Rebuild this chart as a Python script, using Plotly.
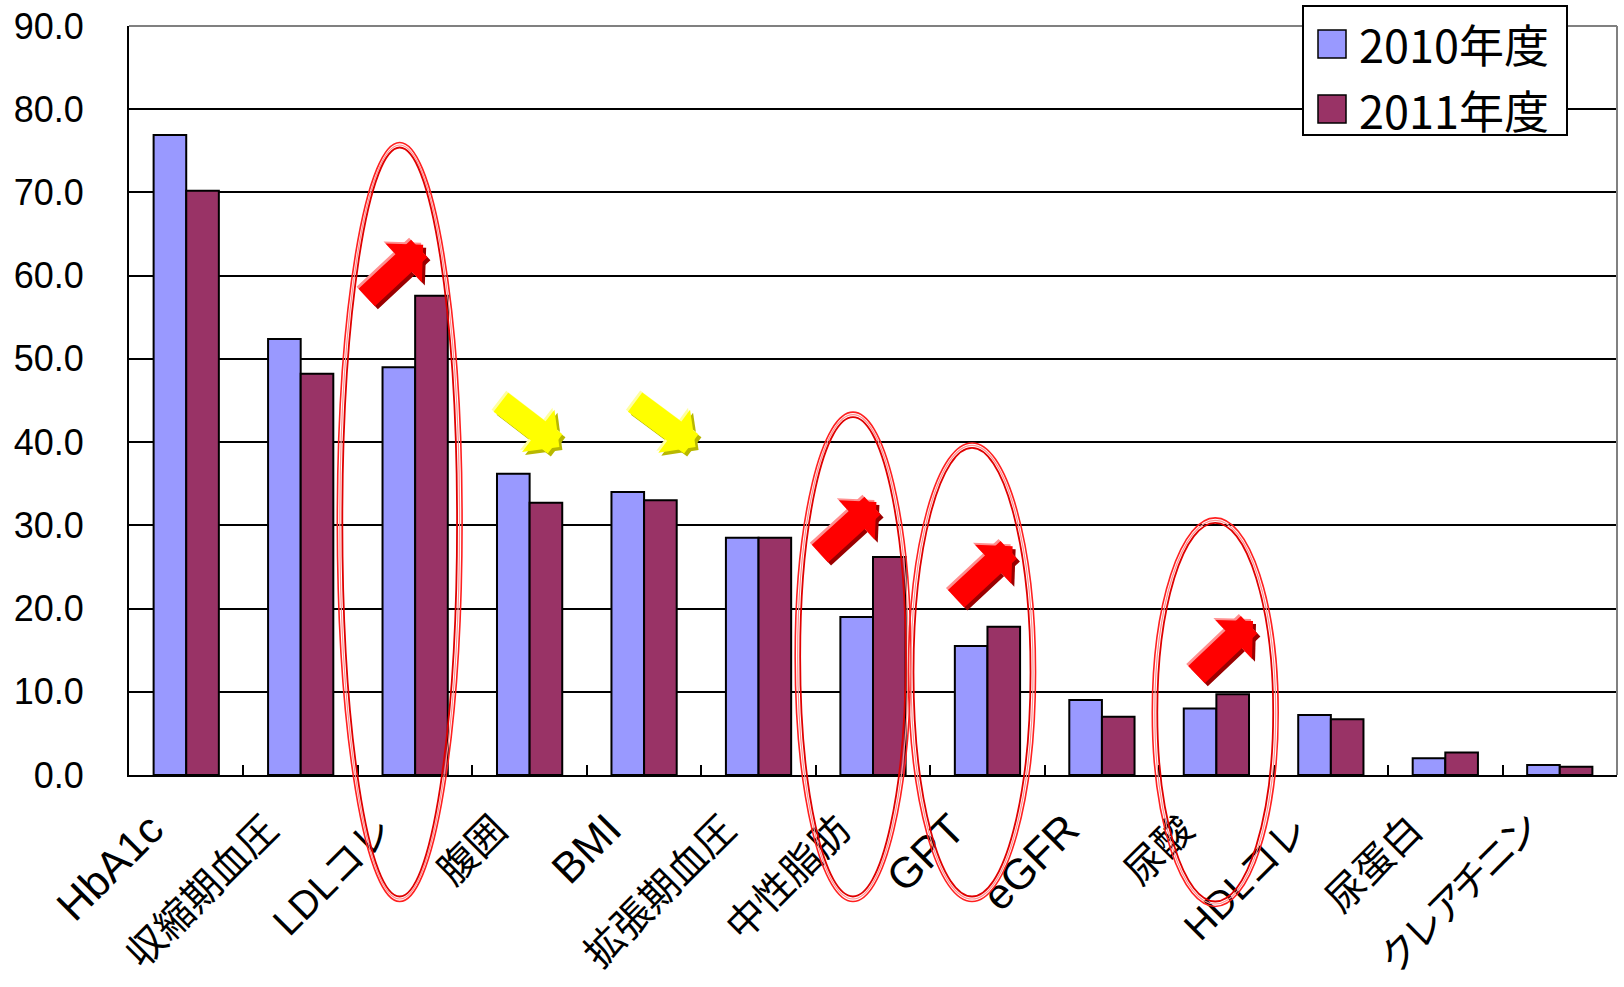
import plotly.graph_objects as go

# ---------------- data ----------------
categories = ["HbA1c", "収縮期血圧", "LDLコレ", "腹囲", "BMI", "拡張期血圧",
              "中性脂肪", "GPT", "eGFR", "尿酸", "HDLコレ", "尿蛋白", "クレアチニン"]
values_2010 = [76.9, 52.4, 49.0, 36.2, 34.0, 28.5, 19.0, 15.5, 9.0, 8.0, 7.2, 2.0, 1.2]
values_2011 = [70.2, 48.2, 57.6, 32.7, 33.0, 28.5, 26.2, 17.8, 7.0, 9.7, 6.7, 2.7, 1.0]
series_names = ["2010年度", "2011年度"]
y_tick_values = [0, 10, 20, 30, 40, 50, 60, 70, 80, 90]

# ---------------- styling ----------------
COLORS = ["#9999FF", "#993366"]
YMAX = 90
N = len(categories)
LATIN_CJK = "Liberation Sans, Noto Sans CJK JP, sans-serif"
CJK = "Noto Sans CJK JP, sans-serif"

# highlight ellipses: (category index from, to, value bottom, value top)
ellipses = [(1.32, 2.41, -15.2, 76.0),
            (5.32, 6.33, -15.2, 43.6),
            (6.31, 7.42, -15.2, 39.9),
            (8.44, 9.54, -15.8, 30.9)]
# arrows: (head category index, head value, tail dx px, tail dy px, colours)
RED = ("#FF0000", "#9A0000", "#FF9090")
YEL = ("#FFFF00", "#B8B800", "#FFFFA0")
arrows = [(2.07, 63.7, -58, 54, RED),
          (6.03, 32.8, -58, 53, RED),
          (7.22, 27.5, -58, 54, RED),
          (9.32, 18.5, -58, 55, RED),
          (3.26, 39.4, -60, -46, YEL),
          (4.45, 39.4, -62, -46, YEL)]


def tick_label(c):
    # Latin-only labels drawn a little larger, katakana run a little tighter
    if c.isascii():
        return '<span style="font-size:43px">' + c + '</span>'
    if all('\u30a0' <= ch <= '\u30ff' for ch in c):
        return '<span style="letter-spacing:-5px">' + c + '</span>'
    return c


fig = go.Figure()
for name, vals, col in zip(series_names, [values_2010, values_2011], COLORS):
    fig.add_trace(go.Bar(x=categories, y=vals, name=name, marker_color=col,
                         marker_line_color="black", marker_line_width=2,
                         showlegend=False))

W, H = 1624, 987
ML, MR, MT, MB = 129, 7, 26, 212
PW = W - ML - MR
PH = H - MT - MB


def px(idx):
    return (idx + 0.5) / N


def py(v):
    return v / YMAX


shapes = []
# top and right frame (grey)
shapes.append(dict(type="line", xref="paper", yref="paper", x0=0, x1=1, y0=1, y1=1,
                   line=dict(color="#808080", width=2)))
shapes.append(dict(type="line", xref="paper", yref="paper", x0=1, x1=1, y0=0, y1=1,
                   line=dict(color="#808080", width=2)))

# ellipses (double red line)
for (a, b, lo, hi) in ellipses:
    for k, (col, w) in enumerate([("#FF2020", 1.6), ("#FF9090", 1.2), ("#E00000", 1.8)]):
        dx = k * 2.5 / PW
        dy = k * 2.5 / PH
        shapes.append(dict(type="circle", xref="paper", yref="paper",
                           x0=px(a) + dx, x1=px(b) - dx,
                           y0=py(lo) + dy, y1=py(hi) - dy,
                           line=dict(color=col, width=w)))

# custom legend
lx0, lx1 = (1303 - ML) / PW, (1567 - ML) / PW
ly0, ly1 = (775 - 135) / PH, (775 - 6) / PH
shapes.append(dict(type="rect", xref="paper", yref="paper", x0=lx0, x1=lx1, y0=ly0, y1=ly1,
                   fillcolor="white", line=dict(color="black", width=2)))
sq = [((775 - 58) / PH, (775 - 30) / PH), ((775 - 123) / PH, (775 - 95) / PH)]
annotations = []
for i, (name, col) in enumerate(zip(series_names, COLORS)):
    y0, y1 = sq[i]
    shapes.append(dict(type="rect", xref="paper", yref="paper",
                       x0=(1318 - ML) / PW, x1=(1346 - ML) / PW, y0=y0, y1=y1,
                       fillcolor=col, line=dict(color="black", width=1.5)))
    annotations.append(dict(xref="paper", yref="paper", x=(1357 - ML) / PW, y=(y0 + y1) / 2,
                            text=name, showarrow=False, xanchor="left", yanchor="middle",
                            font=dict(family=CJK, size=45, color="black")))

# block arrows with shadow and highlight
for (xi, yv, dx, dy, (main, shadow, hi)) in arrows:
    for c, ox, oy in [(shadow, 3, 3), (hi, -2, -2), (main, 0, 0)]:
        annotations.append(dict(xref="x", yref="y", x=xi, y=yv, ax=dx, ay=dy,
                                xshift=ox, yshift=-oy,
                                text="", showarrow=True, arrowhead=1,
                                arrowwidth=24, arrowsize=0.37, arrowcolor=c,
                                standoff=0))

fig.update_layout(
    width=W, height=H,
    margin=dict(l=ML, r=MR, t=MT, b=MB, autoexpand=False),
    paper_bgcolor="white", plot_bgcolor="white",
    barmode="group", bargap=0.43, bargroupgap=0,
    shapes=shapes, annotations=annotations,
    showlegend=False,
)
fig.update_xaxes(
    type="category", showline=True, linecolor="black", linewidth=2,
    tickmode="array", tickvals=categories, ticktext=[tick_label(c) for c in categories],
    ticks="inside", tickson="boundaries", ticklen=10, tickwidth=2, tickcolor="black",
    tickangle=-45, tickfont=dict(family=LATIN_CJK, size=39, color="black"),
    ticklabelstandoff=14, ticklabelshift=-34, automargin=False,
    showgrid=False, zeroline=False,
)
fig.update_yaxes(
    range=[0, YMAX], tickvals=y_tick_values, tickformat=".1f",
    showline=True, linecolor="black", linewidth=2,
    showgrid=True, gridcolor="black", gridwidth=2, zeroline=False,
    ticks="", tickfont=dict(family="Liberation Sans, Arial, sans-serif", size=36, color="black"),
    ticklabelstandoff=36, ticklabeloverflow="allow", automargin=False,
)

fig.write_html("out.html", config={"displayModeBar": False},
               post_script="document.body.style.margin='0';document.body.style.overflow='hidden';")
